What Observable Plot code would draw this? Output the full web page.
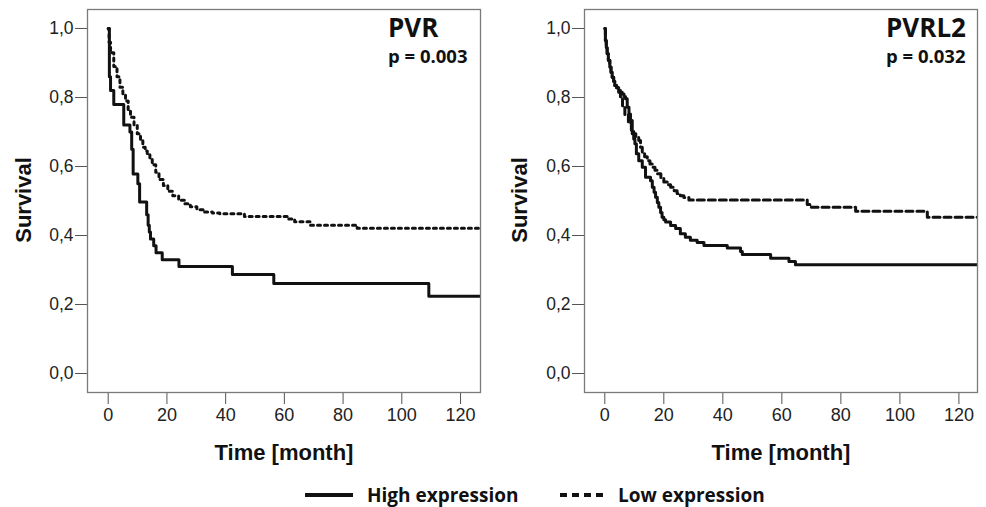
<!DOCTYPE html>
<html>
<head>
<meta charset="utf-8">
<script src="https://cdn.jsdelivr.net/npm/d3@7"></script>
<script src="https://cdn.jsdelivr.net/npm/@observablehq/plot@0.6"></script>
<style>
  html, body { margin: 0; padding: 0; background: #fff; }
  #wrap { position: relative; width: 986px; height: 507px; overflow: hidden; background: #fff; }
  #wrap > div.panel { position: absolute; top: 0; }
  #overlay { position: absolute; left: 0; top: 0; pointer-events: none; }
  .panel svg text { font-size: 18px !important; font-family: 'Liberation Sans', Arial, sans-serif !important; }
  .panel svg g[aria-label="y-axis tick label"] text { font-size: 17.5px !important; }
</style>
</head>
<body>
<div id="wrap">
  <div class="panel" id="p1" style="left:0px"></div>
  <div class="panel" id="p2" style="left:493px"></div>
  <svg id="overlay" width="986" height="507"></svg>
</div>
<script>
// ---- tick labels ----
const xTicks = [0, 20, 40, 60, 80, 100, 120];
const yTicks = [0, 0.2, 0.4, 0.6, 0.8, 1.0];

// ---- panel titles ----
const titles = ["PVR", "PVRL2"];
const pValues = ["p = 0.003", "p = 0.032"];
const seriesNames = ["High expression", "Low expression"];

// ---- PVR, high expression (solid) ----
const pvrHighT = [0, 0.4, 0.8, 1.9, 5.3, 7.4, 8.0, 8.5, 10.1, 10.7, 13.1, 13.6, 14.0, 14.4, 15.5, 16.3, 18.4, 24.1, 42.3, 56.4, 109.2, 127];
const pvrHighS = [1.0, 0.86, 0.82, 0.78, 0.72, 0.70, 0.65, 0.578, 0.55, 0.497, 0.46, 0.43, 0.41, 0.39, 0.37, 0.35, 0.33, 0.31, 0.287, 0.261, 0.224, 0.224];

// ---- PVR, low expression (dotted) ----
const pvrLowT = [0, 0.3, 0.8, 1.9, 3.0, 4.0, 5.0, 5.9, 6.8, 7.6, 8.8, 9.9, 11.0, 11.8, 12.6, 13.3, 14.2, 15.0, 16.2, 17.3, 18.8, 20.3, 22.0, 24.0, 26.0, 28.0, 30.2, 32.6, 35.5, 38.0, 46.4, 61.5, 63.5, 68.9, 84.8, 127];
const pvrLowS = [1.0, 0.96, 0.93, 0.89, 0.86, 0.83, 0.81, 0.79, 0.765, 0.743, 0.72, 0.695, 0.675, 0.656, 0.645, 0.638, 0.62, 0.605, 0.583, 0.562, 0.545, 0.528, 0.515, 0.502, 0.492, 0.483, 0.475, 0.468, 0.465, 0.463, 0.455, 0.448, 0.44, 0.43, 0.421, 0.421];

// ---- PVRL2, high expression (solid) ----
const pvrl2HighT = [0, 0.2, 0.5, 0.8, 1.2, 1.7, 2.1, 2.5, 3.0, 3.4, 4.0, 4.7, 5.3, 5.9, 6.5, 7.0, 7.6, 8.2, 8.7, 9.3, 9.8, 10.2, 10.7, 11.5, 12.7, 13.8, 15.5, 16.1, 16.7, 17.2, 17.8, 18.3, 18.9, 19.4, 20.0, 20.6, 22.3, 24.0, 25.6, 27.3, 29.0, 31.3, 33.6, 41.5, 46.0, 46.6, 56.2, 62.4, 64.6, 127];
const pvrl2HighS = [1.0, 0.965, 0.945, 0.927, 0.908, 0.888, 0.873, 0.859, 0.847, 0.835, 0.828, 0.82, 0.815, 0.81, 0.803, 0.796, 0.772, 0.752, 0.733, 0.695, 0.68, 0.666, 0.637, 0.617, 0.598, 0.569, 0.559, 0.54, 0.525, 0.511, 0.496, 0.482, 0.467, 0.453, 0.446, 0.439, 0.429, 0.42, 0.405, 0.395, 0.386, 0.38, 0.371, 0.364, 0.354, 0.345, 0.334, 0.325, 0.315, 0.315];

// ---- PVRL2, low expression (dashed) ----
const pvrl2LowT = [0, 0.2, 0.5, 0.8, 1.2, 1.7, 2.1, 2.5, 3.0, 3.4, 4.0, 4.7, 5.3, 6.0, 6.8, 8.0, 9.0, 9.8, 10.5, 11.5, 12.1, 12.7, 13.5, 14.4, 15.3, 16.1, 17.0, 17.8, 19.0, 20.0, 21.2, 22.3, 23.5, 24.5, 25.6, 26.8, 28.5, 68.6, 70.0, 85.0, 109.3, 127];
const pvrl2LowS = [1.0, 0.965, 0.945, 0.927, 0.908, 0.888, 0.873, 0.859, 0.847, 0.835, 0.828, 0.815, 0.80, 0.775, 0.75, 0.725, 0.705, 0.695, 0.685, 0.675, 0.656, 0.64, 0.628, 0.617, 0.607, 0.598, 0.589, 0.579, 0.567, 0.555, 0.547, 0.54, 0.53, 0.522, 0.515, 0.51, 0.503, 0.49, 0.482, 0.47, 0.453, 0.453];

const toRows = (T, S) => T.map((t, i) => ({t, s: S[i]}));

const dashPVR = "3,4";
const dashPVRL2 = "7,4";

function panel({high, low, dash, marginLeft, marginRight, xDomain}) {
  return Plot.plot({
    width: 493,
    height: 470,
    marginLeft,
    marginRight,
    marginTop: 9,
    marginBottom: 78,
    x: {domain: xDomain},
    y: {domain: [-0.055, 1.055]},
    style: {fontFamily: "'Liberation Sans', Arial, sans-serif", fontSize: "18px", color: "#222", background: "white", overflow: "visible"},
    marks: [
      Plot.axisX({ticks: xTicks, tickSize: 12, tickPadding: 4, label: null, fontSize: 18, tickFormat: d => String(d), stroke: "#555", fill: "#222"}),
      Plot.axisY({ticks: yTicks, tickSize: 12, tickPadding: 2, label: null, fontSize: 17, tickFormat: d => d.toFixed(1).replace(".", ","), stroke: "#555", fill: "#222"}),
      Plot.line(low, {x: "t", y: "s", curve: "step-after", stroke: "#111", strokeWidth: 3, strokeDasharray: dash, clip: true}),
      Plot.line(high, {x: "t", y: "s", curve: "step-after", stroke: "#111", strokeWidth: 3, clip: true}),
      Plot.frame({stroke: "#7a7a7a", strokeWidth: 1.3})
    ]
  });
}

document.getElementById("p1").appendChild(panel({
  high: toRows(pvrHighT, pvrHighS),
  low: toRows(pvrLowT, pvrLowS),
  dash: dashPVR,
  marginLeft: 87, marginRight: 13,
  xDomain: [-7.05, 126.8]
}));
document.getElementById("p2").appendChild(panel({
  high: toRows(pvrl2HighT, pvrl2HighS),
  low: toRows(pvrl2LowT, pvrl2LowS),
  dash: dashPVRL2,
  marginLeft: 91, marginRight: 9,
  xDomain: [-6.88, 126.3]
}));

// ---- overlay: axis titles, panel titles, legend ----
const ov = d3.select("#overlay");
const axisFont = "'Liberation Sans', Arial, sans-serif";
const titleFont = "'Open Sans', 'Noto Sans', sans-serif";

[284, 781].forEach(cx => {
  ov.append("text").attr("x", cx).attr("y", 460).attr("text-anchor", "middle")
    .attr("font-family", axisFont).attr("font-weight", "bold").attr("font-size", 22).attr("fill", "#111")
    .text("Time [month]");
});
[[30.5, 200], [527, 200]].forEach(([bx, cy]) => {
  ov.append("text").attr("transform", `translate(${bx},${cy}) rotate(-90)`).attr("text-anchor", "middle")
    .attr("font-family", axisFont).attr("font-weight", "bold").attr("font-size", 22).attr("fill", "#111")
    .text("Survival");
});
[388, 886].forEach((lx, i) => {
  ov.append("text").attr("x", lx).attr("y", 36.5)
    .attr("font-family", titleFont).attr("font-weight", "bold").attr("font-size", 26).attr("fill", "#111")
    .text(titles[i]);
  ov.append("text").attr("x", lx).attr("y", 62.5)
    .attr("font-family", titleFont).attr("font-weight", "bold").attr("font-size", 18.5).attr("fill", "#111")
    .text(pValues[i]);
});
// legend
ov.append("line").attr("x1", 305).attr("x2", 353).attr("y1", 495).attr("y2", 495)
  .attr("stroke", "#111").attr("stroke-width", 4);
ov.append("text").attr("x", 367).attr("y", 502)
  .attr("font-family", titleFont).attr("font-weight", "bold").attr("font-size", 19).attr("fill", "#111")
  .text(seriesNames[0]);
ov.append("line").attr("x1", 560).attr("x2", 605).attr("y1", 495).attr("y2", 495)
  .attr("stroke", "#111").attr("stroke-width", 4).attr("stroke-dasharray", "7,5");
ov.append("text").attr("x", 618).attr("y", 502)
  .attr("font-family", titleFont).attr("font-weight", "bold").attr("font-size", 19).attr("fill", "#111")
  .text(seriesNames[1]);
</script>
</body>
</html>
